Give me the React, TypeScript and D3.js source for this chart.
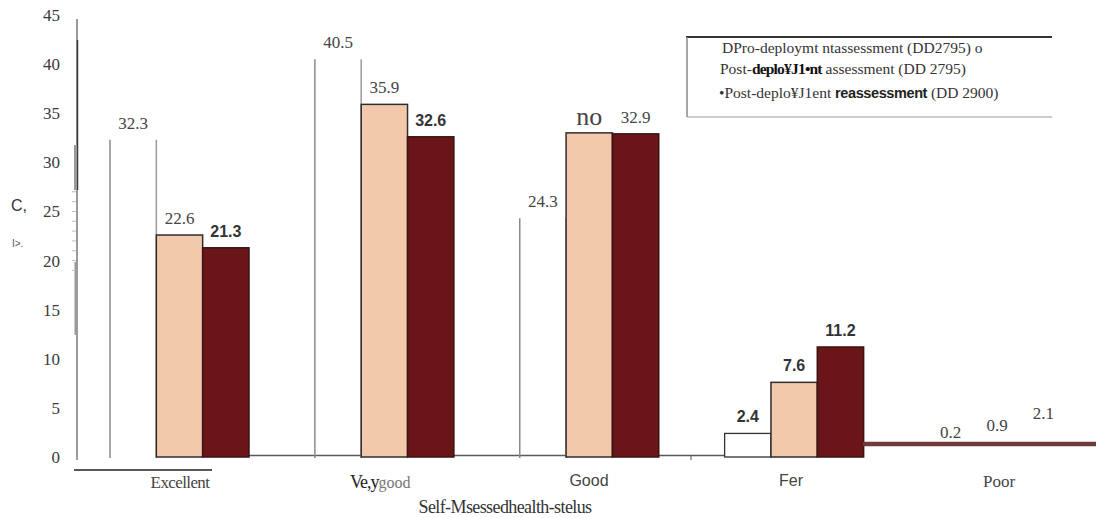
import React from "react";
import * as d3 from "d3";

// Self-assessed health status by assessment wave (percent of respondents)
const categories = ["Excellent", "Very good", "Good", "Fair", "Poor"];
const seriesNames = [
  "Pre-deployment assessment (DD 2795)",
  "Post-deployment assessment (DD 2795)",
  "Post-deployment reassessment (DD 2900)",
];
const preDeployment = [32.3, 40.5, 24.3, 2.4, 0.2];
const postDeployment = [22.6, 35.9, 33.0, 7.6, 0.9];
const reassessment = [21.3, 32.6, 32.9, 11.2, 2.1];

const preLabels = ["32.3", "40.5", "24.3", "2.4", "0.2"];
const postLabels = ["22.6", "35.9", "no", "7.6", "0.9"];
const reLabels = ["21.3", "32.6", "32.9", "11.2", "2.1"];

const yTicks = [0, 5, 10, 15, 20, 25, 30, 35, 40, 45];

const W = 1096;
const H = 518;
const SERIF = "'Liberation Serif', 'Times New Roman', 'DejaVu Serif', serif";
const SANS = "'Liberation Sans', Arial, sans-serif";

export default function App() {
  const y = d3.scaleLinear().domain([0, 45]).range([457, 15]);
  const xGroup = d3.scalePoint<string>().domain(categories).range([179.5, 999]);
  const xSub = d3.scaleBand<string>().domain(seriesNames).range([-69.5, 69.5]).paddingInner(0);
  const bw = xSub.bandwidth();

  const values = [preDeployment, postDeployment, reassessment];
  const labels = [preLabels, postLabels, reLabels];

  const barX = (ci: number, si: number) => (xGroup(categories[ci]) as number) + (xSub(seriesNames[si]) as number);

  const minorTicks = d3.range(19, 28, 1);

  return (
    <svg width={W} height={H} style={{ position: "absolute", left: 0, top: 0, background: "#fff" }}>
      {/* y axis */}
      <line x1={77} x2={77} y1={19} y2={460} stroke="#7a7a7a" strokeWidth={1.5} />
      <line x1={77.5} x2={77.5} y1={40} y2={190} stroke="#3a3a3a" strokeWidth={1.5} />
      <line x1={75.5} x2={75.5} y1={145} y2={190} stroke="#999" strokeWidth={3} />
      <line x1={75.5} x2={75.5} y1={262} y2={335} stroke="#999" strokeWidth={2} />
      {minorTicks.map((t) => (
        <line key={"m" + t} x1={72} x2={76} y1={y(t)} y2={y(t)} stroke="#bbb" strokeWidth={1} />
      ))}
      {yTicks.map((t) => (
        <text key={t} x={60} y={y(t)} dy="0.35em" textAnchor="end" fontFamily={SERIF} fontSize={17} fill="#3a3a3a">
          {t}
        </text>
      ))}
      <text x={11} y={211} fontFamily={SANS} fontSize={16} fill="#333">C,</text>
      <text x={12} y={247} fontFamily={SANS} fontSize={10} fill="#555">I&gt;.</text>

      {/* baseline pieces */}
      <line x1={249} x2={730} y1={y(0) - 1.5} y2={y(0) - 1.5} stroke="#5a5a5a" strokeWidth={1.5} />
      <line x1={691} x2={691} y1={y(0) - 2} y2={y(0) + 3} stroke="#555" strokeWidth={1} />
      <line x1={74} x2={212} y1={470} y2={470} stroke="#222" strokeWidth={1.3} />

      {/* bars */}
      {categories.map((c, ci) => {
        if (c === "Poor") return null;
        return (
          <g key={c}>
            {values.map((vals, si) => {
              const x0 = barX(ci, si);
              const top = y(vals[ci]);
              const bottom = y(0);
              if (si === 0) {
                if (c === "Fair") {
                  return (
                    <rect key={si} x={x0} y={top} width={bw} height={bottom - top} fill="#fff" stroke="#333" strokeWidth={1.3} />
                  );
                }
                return (
                  <g key={si}>
                    <line x1={x0} x2={x0} y1={top} y2={bottom + 1} stroke="#8a8a8a" strokeWidth={1.5} />
                    <line x1={x0 + bw} x2={x0 + bw} y1={top} y2={bottom + 1} stroke="#9a9a9a" strokeWidth={1.5} />
                  </g>
                );
              }
              return (
                <rect
                  key={si}
                  x={x0}
                  y={top}
                  width={bw}
                  height={bottom - top}
                  fill={si === 1 ? "#f3c9ab" : "#6a1518"}
                  stroke={si === 1 ? "#2e2e2e" : "#3a1414"}
                  strokeWidth={1.5}
                />
              );
            })}
          </g>
        );
      })}

      {/* Poor band */}
      <line x1={863} x2={1096} y1={444} y2={444} stroke="#6f3a3b" strokeWidth={4.5} />

      {/* value labels */}
      {categories.map((c, ci) =>
        values.map((vals, si) => {
          const cx = barX(ci, si) + bw / 2;
          const txt = labels[si][ci];
          const bold = (si === 2 && (c === "Excellent" || c === "Very good" || c === "Fair")) || (c === "Fair" && si !== 2);
          const isPoor = c === "Poor";
          const big = txt === "no";
          const dyTop = isPoor ? -17 : big ? -8 : -11;
          return (
            <text
              key={c + si}
              x={cx - (isPoor ? 2 : 0)}
              y={y(vals[ci]) + dyTop}
              textAnchor="middle"
              fontFamily={bold ? SANS : SERIF}
              fontWeight={bold ? 700 : 400}
              fontSize={big ? 26 : bold ? 16 : 17}
              fill={bold ? "#333" : "#444"}
            >
              {txt}
            </text>
          );
        })
      )}

      {/* category labels */}
      <text x={180} y={488} textAnchor="middle" fontFamily={SERIF} fontSize={17} fill="#444" letterSpacing={-0.6}>
        Excellent
      </text>
      <text x={350} y={488} textAnchor="start" fontFamily={SERIF} fill="#222">
        <tspan fontSize={18} letterSpacing={-1}>Ve,y</tspan>
        <tspan fontSize={16} fill="#777">good</tspan>
      </text>
      <text x={589} y={486} textAnchor="middle" fontFamily={SANS} fontSize={16} fill="#444">Good</text>
      <text x={791} y={486} textAnchor="middle" fontFamily={SANS} fontSize={16} fill="#444">Fer</text>
      <text x={999} y={487} textAnchor="middle" fontFamily={SERIF} fontSize={17} fill="#444">Poor</text>
      <text x={505} y={513} textAnchor="middle" fontFamily={SERIF} fontSize={18} fill="#333" letterSpacing={-0.6}>
        Self-Msessedhealth-stelus
      </text>

      {/* legend */}
      <line x1={686} x2={1052} y1={37} y2={37} stroke="#333" strokeWidth={1.8} />
      <line x1={687} x2={687} y1={37} y2={117} stroke="#888" strokeWidth={1.5} />
      <line x1={687} x2={1052} y1={117} y2={117} stroke="#999" strokeWidth={1} />
      <text x={722} y={53} fontFamily={SERIF} fontSize={15.5} fill="#333">
        DPro-deploymt ntassessment (DD2795) o
      </text>
      <text x={720} y={74} fontFamily={SERIF} fontSize={15.5} fill="#333">
        Post-<tspan fill="#111" fontWeight={700} letterSpacing={-0.8}>deplo¥J1•nt</tspan> assessment (DD 2795)
      </text>
      <text x={719} y={98} fontFamily={SERIF} fontSize={15.5} fill="#333">
        •Post-deplo¥J1ent <tspan fontFamily={SANS} fontSize={14.5} fontWeight={700} fill="#222" letterSpacing={-0.4}>reassessment</tspan> (DD 2900)
      </text>
    </svg>
  );
}
